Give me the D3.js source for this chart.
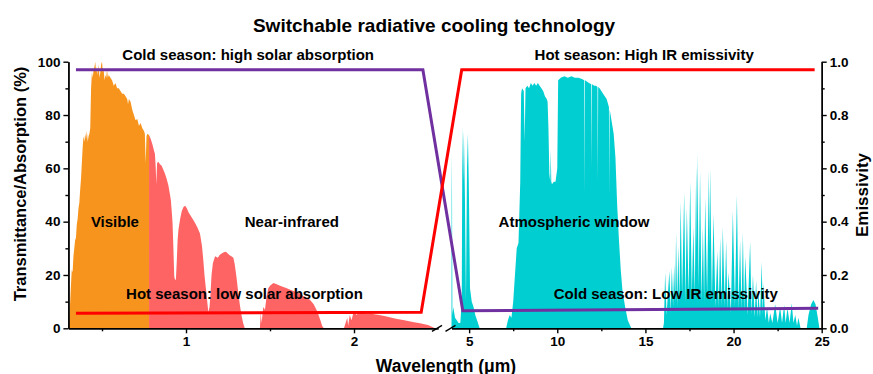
<!DOCTYPE html>
<html><head><meta charset="utf-8">
<script src="https://cdn.jsdelivr.net/npm/d3@7"></script>
<style>
html,body{margin:0;padding:0;background:#fff;}
svg{display:block;font-family:"Liberation Sans",Arial,sans-serif;}
</style></head>
<body><svg id="c" width="873" height="374"></svg>
<script>
// ---------- DATA ----------
const title = "Switchable radiative cooling technology";
const leftTicks = [0, 20, 40, 60, 80, 100];
const leftMinor = [10, 30, 50, 70, 90];
const rightTicks = [0, 0.2, 0.4, 0.6, 0.8, 1.0];
const rightMinor = [0.1, 0.3, 0.5, 0.7, 0.9];
const bottomTicksLeft = [1, 2];
const bottomMinorLeft = [0.5, 1.5];
const bottomTicksRight = [5, 10, 15, 20, 25];
const bottomMinorRight = [7.5, 12.5, 17.5, 22.5];

// Visible solar spectrum (%)
const visWl = [0.30,0.305,0.31,0.315,0.32,0.325,0.33,0.335,0.34,0.345,0.35,0.355,0.36,0.365,0.37,0.375,0.38,0.385,0.39,0.395,0.40,0.405,0.41,0.415,0.42,0.425,0.43,0.435,0.44,0.445,0.45,0.455,0.46,0.465,0.47,0.475,0.48,0.485,0.49,0.495,0.50,0.505,0.51,0.515,0.52,0.525,0.53,0.535,0.54,0.55,0.56,0.57,0.58,0.59,0.60,0.61,0.62,0.63,0.64,0.65,0.655,0.66,0.67,0.68,0.69,0.70,0.71,0.72,0.73,0.74,0.75,0.755,0.76,0.765,0.77,0.78];
const visVal = [0,2,9,16,22,21,27,30,33,34,39,41,45,47,52,56,62,68,72,70,73,71,74,70,72,73,75,90,96,94,97,98,100,96,98,95,99,94,96,99,100,96,97,93,95,94,97,94,95,94,93,91,92,90,90,89,88,88,87,86,84,86,85,82,80,78,78.5,76,77,75,74,73,62,72,73,72.5];

// Near-infrared solar spectrum (%)
const nirWl = [0.78,0.79,0.80,0.81,0.815,0.82,0.823,0.828,0.835,0.845,0.855,0.865,0.875,0.885,0.895,0.905,0.91,0.915,0.92,0.925,0.93,0.935,0.94,0.945,0.95,0.955,0.965,0.975,0.985,0.995,1.005,1.015,1.025,1.04,1.055,1.07,1.083,1.095,1.103,1.11,1.12,1.133,1.14,1.145,1.152,1.16,1.173,1.19,1.20,1.21,1.225,1.238,1.25,1.258,1.27,1.282,1.29,1.30,1.31,1.32,1.33,1.34,1.35,1.44,1.445,1.45,1.46,1.47,1.48,1.49,1.50,1.52,1.54,1.56,1.58,1.60,1.62,1.64,1.66,1.68,1.70,1.72,1.74,1.76,1.78,1.80,1.81,1.82,1.94,1.95,1.96,1.965,1.975,1.985,1.995,2.005,2.015,2.03,2.05,2.08,2.10,2.12,2.15,2.18,2.20,2.25,2.30,2.35,2.40,2.44,2.47,2.48];
const nirVal = [72.5,71,69,66.5,65.5,60,54,62,62.5,61.5,61,59.5,58,56,53.7,50,48,44,39.5,30,19.5,18,18.5,25,33,37,41,44,45.5,46,45,43.5,42.5,41,39.4,37.5,35.6,31,25.6,20,14,6,8,12,20,24.4,27,26.5,27.5,28,28.5,28.7,28,27.5,27,26.5,24,19.4,14,9,5,2,0,0,6,2,8,7,12,15,16,17,16.5,16,15.5,15,14.5,14,13.5,13,12,11.5,10.5,9,6.5,3,1,0,0,2,4,1,5,3,5.5,6.5,5,6,5.8,5.5,5.6,5.3,5,4.6,4.3,3.6,3,2.4,1.8,1.2,0.4,0];

// Atmospheric transmittance (0-1)
const atmWl = [4.0,4.01,4.03,4.05,4.1,4.2,4.3,4.4,4.5,4.58,4.62,4.66,4.70,4.76,4.82,4.88,4.93,4.98,5.05,5.15,5.25,5.35,5.45,5.55,5.6,7.1,7.2,7.3,7.4,7.5,7.6,7.7,7.8,7.9,7.95,8.0,8.1,8.15,8.2,8.3,8.4,8.5,8.6,8.7,8.8,8.9,9.0,9.1,9.2,9.3,9.4,9.45,9.5,9.55,9.6,9.63,9.66,9.7,9.8,9.9,10.0,10.05,10.2,10.4,10.6,10.8,11.0,11.2,11.4,11.53,11.55,11.57,11.7,11.8,11.93,11.95,11.97,12.1,12.2,12.28,12.3,12.32,12.4,12.6,12.8,12.93,12.95,12.97,13.0,13.1,13.2,13.3,13.4,13.5,13.6,13.7,13.85,14.0,14.2,16.0,16.05,16.12,16.2,16.36,16.43,16.5,16.57,16.63,16.69,16.74,16.8,16.87,16.93,17.0,17.08,17.2,17.27,17.35,17.45,17.54,17.63,17.72,17.8,17.88,17.92,17.95,18.02,18.1,18.18,18.26,18.33,18.39,18.5,18.6,18.64,18.67,18.77,18.86,18.97,19.08,19.16,19.24,19.32,19.39,19.5,19.58,19.65,19.71,19.85,19.96,20.08,20.19,20.28,20.37,20.45,20.53,20.6,20.66,20.8,20.94,21.02,21.1,21.2,21.28,21.35,21.41,21.5,21.6,21.65,21.7,21.8,21.9,22.0,22.08,22.2,22.36,22.5,22.64,22.75,22.87,22.95,23.06,23.18,23.3,23.4,23.5,23.6,23.68,23.8,24.15,24.25,24.4,24.53,24.65,24.78,24.87];
const atmVal = [0,0.66,0.5,0.05,0.08,0.04,0.03,0.02,0.02,0.10,0.76,0.55,0.74,0.50,0.10,0.60,0.73,0.55,0.15,0.10,0.08,0.05,0.03,0.01,0,0,0.03,0.05,0.04,0.10,0.20,0.30,0.32,0.55,0.88,0.90,0.89,0.70,0.90,0.91,0.90,0.92,0.91,0.92,0.91,0.92,0.91,0.90,0.89,0.87,0.86,0.85,0.75,0.58,0.55,0.67,0.55,0.54,0.55,0.55,0.60,0.93,0.94,0.945,0.94,0.945,0.94,0.94,0.935,0.93,0.5,0.93,0.925,0.92,0.915,0.6,0.915,0.91,0.91,0.905,0.55,0.905,0.90,0.88,0.86,0.83,0.5,0.82,0.81,0.77,0.73,0.64,0.46,0.33,0.22,0.14,0.08,0.03,0,0,0.02,0.21,0.05,0.215,0.06,0.23,0.08,0.24,0.10,0.36,0.08,0.31,0.10,0.475,0.12,0.51,0.10,0.45,0.12,0.55,0.12,0.38,0.12,0.61,0.30,0.66,0.15,0.59,0.10,0.38,0.10,0.49,0.12,0.59,0.30,0.60,0.10,0.43,0.08,0.29,0.08,0.34,0.08,0.38,0.08,0.33,0.07,0.21,0.06,0.44,0.08,0.50,0.07,0.33,0.07,0.36,0.06,0.27,0.05,0.325,0.05,0.20,0.04,0.18,0.04,0.14,0.04,0.25,0.05,0.17,0.03,0.08,0.02,0.056,0.02,0.09,0.02,0.08,0.02,0.087,0.02,0.075,0.02,0.094,0.02,0.05,0.01,0.04,0,0,0.05,0.09,0.106,0.09,0.04,0];

// Purple line: cold season (fraction; left part read as absorption/100)
const purpleWl = [0.345, 2.41, 4.64, 24.8];
const purpleVal = [0.97, 0.97, 0.066, 0.075];
// Red line: hot season
const redWl = [0.345, 2.40, 4.58, 24.6];
const redVal = [0.056, 0.06, 0.97, 0.97];

// ---------- CHART ----------
const svg = d3.select("#c");
const FONT = '"Liberation Sans",Arial,sans-serif';
const yL = d3.scaleLinear([0, 100], [328.3, 61.7]);
const yR = d3.scaleLinear([0, 1], [328.3, 61.7]);
const xL = d3.scaleLinear([0.3, 2.5], [68.4, 438]);
const xR = d3.scaleLinear([4, 25], [451.5, 821.7]);
const xs = w => (w <= 3 ? xL(w) : xR(w));

const cOrange = "#F7941D", cSalmon = "#FF6464", cCyan = "#00CED1", cPurple = "#7030A0", cRed = "#FF0000";

const areaPct = d3.area().x(d => xs(d[0])).y0(yL(0)).y1(d => yL(d[1]));
const areaFrac = d3.area().x(d => xs(d[0])).y0(yR(0)).y1(d => yR(d[1]));

svg.append("path").datum(d3.zip(nirWl, nirVal)).attr("d", areaPct).attr("fill", cSalmon);
svg.append("path").datum(d3.zip(visWl, visVal)).attr("d", areaPct).attr("fill", cOrange);
svg.append("path").datum(d3.zip(atmWl, atmVal)).attr("d", areaFrac).attr("fill", cCyan);

const line = d3.line().x(d => xs(d[0])).y(d => yR(d[1]));
svg.append("path").datum(d3.zip(purpleWl, purpleVal)).attr("d", line)
  .attr("fill", "none").attr("stroke", cPurple).attr("stroke-width", 3);
svg.append("path").datum(d3.zip(redWl, redVal)).attr("d", line)
  .attr("fill", "none").attr("stroke", cRed).attr("stroke-width", 3);

// axes
function styleAxis(g) {
  g.selectAll("path,line").attr("stroke", "#000").attr("stroke-width", 1.4);
  g.selectAll("text").attr("font-family", FONT).attr("font-size", 13.5).attr("font-weight", "bold").attr("fill", "#000");
}
const x0 = yL(0);
svg.append("g").attr("transform", `translate(${xL(0.3)},0)`)
  .call(d3.axisLeft(yL).tickValues(leftTicks).tickSize(5).tickSizeOuter(0).tickPadding(3).tickFormat(d3.format("d")))
  .call(styleAxis);
svg.append("g").attr("transform", `translate(${xL(0.3)},0)`)
  .call(d3.axisLeft(yL).tickValues(leftMinor).tickSize(3).tickSizeOuter(0).tickFormat(""))
  .call(styleAxis);
svg.append("g").attr("transform", `translate(${xR(25)},0)`)
  .call(d3.axisRight(yR).tickValues(rightTicks).tickSize(5).tickSizeOuter(0).tickPadding(3).tickFormat(d3.format(".1f")))
  .call(styleAxis);
svg.append("g").attr("transform", `translate(${xR(25)},0)`)
  .call(d3.axisRight(yR).tickValues(rightMinor).tickSize(3).tickSizeOuter(0).tickFormat(""))
  .call(styleAxis);
svg.append("g").attr("transform", `translate(0,${x0})`)
  .call(d3.axisBottom(xL).tickValues(bottomTicksLeft).tickSize(5).tickSizeOuter(0).tickPadding(3).tickFormat(d3.format("d")))
  .call(styleAxis);
svg.append("g").attr("transform", `translate(0,${x0})`)
  .call(d3.axisBottom(xL).tickValues(bottomMinorLeft).tickSize(3).tickSizeOuter(0).tickFormat(""))
  .call(styleAxis);
svg.append("g").attr("transform", `translate(0,${x0})`)
  .call(d3.axisBottom(xR).tickValues(bottomTicksRight).tickSize(5).tickSizeOuter(0).tickPadding(3).tickFormat(d3.format("d")))
  .call(styleAxis);
svg.append("g").attr("transform", `translate(0,${x0})`)
  .call(d3.axisBottom(xR).tickValues(bottomMinorRight).tickSize(3).tickSizeOuter(0).tickFormat(""))
  .call(styleAxis);

// break marks
[xL(2.5) - 1, xR(4) - 1].forEach(cx => {
  svg.append("line").attr("x1", cx - 5).attr("y1", x0 + 3).attr("x2", cx + 5).attr("y2", x0 - 3)
    .attr("stroke", "#000").attr("stroke-width", 1.4);
});

// titles
const txt = (x, y, s, size) => svg.append("text").attr("x", x).attr("y", y).text(s)
    .attr("font-family", FONT).attr("font-size", size).attr("font-weight", "bold")
    .attr("text-anchor", "middle").attr("fill", "#000");
txt(434, 31.5, title, 19);
txt(26, 184, "Transmittance/Absorption (%)", 16.5).attr("transform", "rotate(-90,26,184)");
txt(868, 195, "Emissivity", 17).attr("transform", "rotate(-90,868,195)");
txt(446, 371.5, "Wavelength (\u03bcm)", 17.5);

// annotations (positioned in data coordinates)
txt(xL(1.37), yL(100) - 2, "Cold season: high solar absorption", 15);
txt(xR(14.93), yR(1.0) - 2, "Hot season: High IR emissivity", 15);
txt(xL(0.577), yL(38), "Visible", 15);
txt(xL(1.63), yL(38), "Near-infrared", 15);
txt(xL(1.348), yL(11), "Hot season: low solar absorption", 15);
txt(xR(10.95), yR(0.38), "Atmospheric window", 15);
txt(xR(16.16), yR(0.11), "Cold season: Low IR emissivity", 15);
</script></body></html>
